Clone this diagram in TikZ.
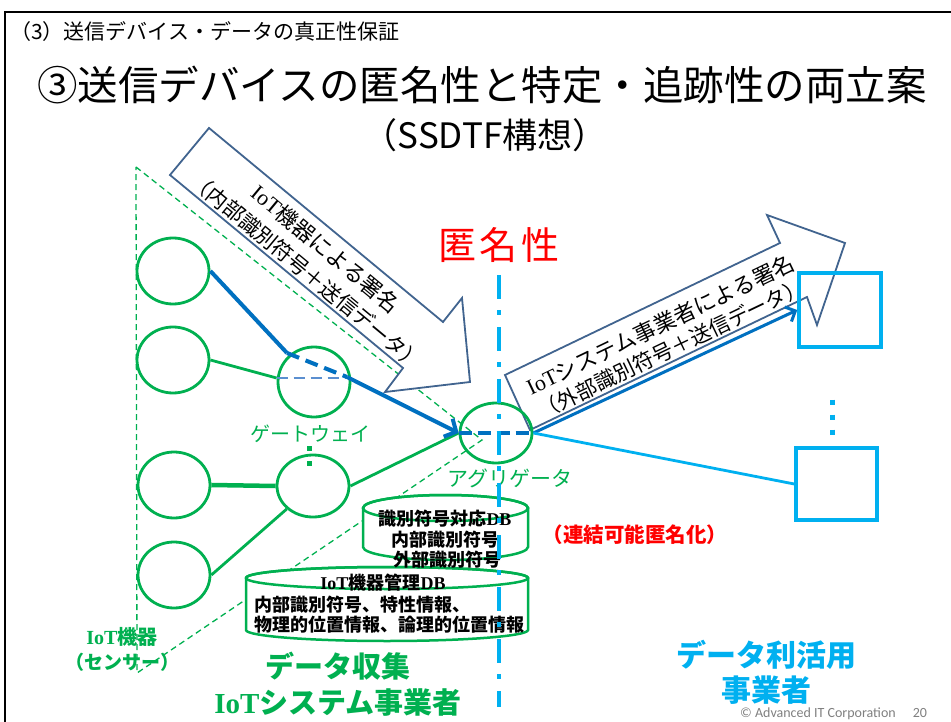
\documentclass[tikz,border=0pt]{standalone}
\usepackage{fontspec}
\setmainfont{Noto Sans CJK JP}
\newfontfamily\tms{Liberation Serif}
\newfontfamily\calfont{Carlito}
\usetikzlibrary{shapes.geometric,arrows.meta}
\definecolor{ggreen}{HTML}{00B050}
\definecolor{dblue}{HTML}{0070C0}
\definecolor{lblue}{HTML}{00B0F0}
\definecolor{arrowc}{HTML}{41648F}
\definecolor{ldash}{HTML}{5B8FD0}
\definecolor{cgray}{HTML}{808080}
\newcommand{\fsz}[1]{\fontsize{#1}{#1}\selectfont}
\tikzset{
  sens/.style={ellipse, draw=ggreen, line width=2.8pt, inner sep=0pt, minimum width=72pt, minimum height=66pt},
  dispbox/.style={rectangle, draw=lblue, line width=3.5pt, inner sep=0pt},
  gline/.style={draw=ggreen, line width=2.8pt},
  bline/.style={draw=dblue, line width=4pt},
  barrow/.style={draw=arrowc, line width=1.8pt, fill=white, line join=miter},
  dbs/.style={draw=ggreen, line width=2.5pt, fill=white},
  lbl/.style={inner sep=0pt},
  vdots/.style={line width=5pt, dash pattern=on 5pt off 10pt}
}
\begin{document}
\begin{tikzpicture}[x=1pt,y=-1pt]
\useasboundingbox (0,0) rectangle (951,722);
\fill[white] (0,0) rectangle (951,722);
% frame
\draw[line width=2.5pt] (5,722) -- (5,12) -- (951,12);
% headings
\node[lbl, anchor=west] (sub) at (10,32) {\fsz{21}（3）送信デバイス・データの真正性保証};
\node[lbl] (title) at (482,85) {\fsz{40.5}③送信デバイスの匿名性と特定・追跡性の両立案};
\node[lbl] (ssdtf) at (485,135) {\fsz{35}（SSDTF構想）};
% dashed triangle (IoT devices area)
\coordinate (t1) at (136,167);
\coordinate (t2) at (482,440);
\coordinate (t3) at (137,673);
\draw[ggreen, line width=1.3pt, dash pattern=on 6pt off 4pt] (t1) -- (t2) -- (t3) -- cycle;
% big arrow 1
\draw[barrow] (209,128) -- (443,322) -- (462,298) -- (470,382) -- (385,392) -- (403,368) -- (170,175) -- cycle;
\node[lbl, rotate=-39.7, align=center, font=\fontsize{21}{29.4}\selectfont] (a1t) at (316.5,260) {{\fontsize{22}{29.4}\selectfont{\tms IoT}機器による署名}\\（内部識別符号＋送信データ）};
% big arrow 2
\draw[barrow] (530,430) -- (505,375) -- (780,243) -- (767,215) -- (845,243) -- (817,325) -- (807,297) -- cycle;
\node[lbl, rotate=25.6, align=center, font=\fontsize{21}{26}\selectfont] (a2t) at (666,336.5) {{\fontsize{22}{26}\selectfont{\tms IoT}システム事業者による署名}\\（外部識別符号＋送信データ）};
% anonymity label
\node[lbl, text=red] (anon) at (499,245) {\fsz{38}匿\kern4pt 名\kern4pt 性};
% sensors, gateways, aggregator
\node[sens] (s1) at (173,271) {};
\node[sens] (s2) at (173,360) {};
\node[sens] (s3) at (174,485) {};
\node[sens] (s4) at (174,575) {};
\node[sens, minimum height=70pt] (g1) at (314,382) {};
\node[sens, minimum height=62pt] (g2) at (313,486) {};
\node[sens, minimum height=60pt] (agg) at (496,433) {};
% data users
\node[dispbox, minimum width=82pt, minimum height=74pt] (ub) at (840,310) {};
\node[dispbox, minimum width=81pt, minimum height=72pt] (lb) at (836.5,484) {};
% green links
\draw[gline] (s2.east) -- ([yshift=4pt]g1.west);
\draw[ggreen, line width=4.5pt] (s3.east) -- (g2.west);
\draw[gline] (s4.east) -- (g2);
\draw[gline] (g2.east) -- (agg.west);
% light dashed inside gateway 1
\draw[ldash, line width=2.5pt, dash pattern=on 11pt off 6pt] ([yshift=4pt]g1.west) -- ([yshift=4pt]g1.east);
% blue path
\coordinate (b1) at (287,353);
\coordinate (b2) at (347,377);
\draw[bline, line join=round] (s1.east) -- (b1);
\draw[bline, dash pattern=on 13pt off 7pt] (b1) -- (b2);
\draw[bline, -{Straight Barb[length=9pt,width=20pt]}] (b2) -- (agg.west);
\draw[bline, dash pattern=on 13pt off 6pt] (agg.west) -- (agg.east);
\draw[dblue, line width=3pt, -{Straight Barb[length=8pt,width=16pt]}] (agg.east) -- (ub.west);
\draw[lblue, line width=2.8pt] (agg.east) -- (lb.west);
% dots
\coordinate (gd1) at (309,446);
\coordinate (gd2) at (309,467);
\draw[ggreen, vdots] (gd1) -- (gd2);
\coordinate (bd1) at (832,399.5);
\coordinate (bd2) at (832,436);
\draw[lblue, vdots] (bd1) -- (bd2);
% labels
\node[lbl, text=ggreen] (gwl) at (310,434) {\fsz{20}ゲートウェイ};
\node[lbl, text=ggreen] (aggl) at (510,478) {\fsz{21}アグリゲータ};
% DB 1
\filldraw[dbs] (363,508) -- (363,547) arc[start angle=180, end angle=0, x radius=82.5, y radius=13] -- (528,508) arc[start angle=0, end angle=-180, x radius=82.5, y radius=13] -- cycle;
\draw[ggreen, line width=2.5pt] (445.5,508) ellipse[x radius=82.5, y radius=13];
% DB 2
\filldraw[dbs] (246,578) -- (246,630) arc[start angle=180, end angle=0, x radius=141, y radius=11] -- (528,578) arc[start angle=0, end angle=-180, x radius=141, y radius=11] -- cycle;
\draw[ggreen, line width=2.5pt] (387,578) ellipse[x radius=141, y radius=11];
% DB texts
\node[lbl, align=center, font=\bfseries\fontsize{18}{20.5}\selectfont] (db1) at (445,539.5) {識別符号対応{\tms\bfseries DB}\\内部識別符号\\\hspace*{4pt}外部識別符号};
\node[lbl] (db2a) at (383,583) {\bfseries\fsz{18}{\tms\bfseries IoT}機器管理{\tms\bfseries DB}};
\node[lbl, anchor=west, align=left, font=\bfseries\fontsize{18}{20}\selectfont] (db2b) at (254,615) {内部識別符号、特性情報、\\物理的位置情報、論理的位置情報};
% vertical dash-dot line
\coordinate (vt) at (499,275);
\coordinate (vb) at (499,707);
\draw[lblue, line width=4.5pt, dash pattern=on 24pt off 11pt on 5pt off 12pt] (vt) -- (vb);
% red label
\node[lbl, text=red] (link) at (635,535) {\bfseries\fsz{20.5}（連結可能匿名化）};
% bottom labels
\node[lbl, text=ggreen, align=center, font=\bfseries\fontsize{20}{25}\selectfont] (iotl) at (122,649.5) {{\tms\bfseries IoT}機器\\{\fontsize{19}{25}\selectfont（センサー）}};
\node[lbl, text=ggreen, align=center, font=\bfseries\fontsize{29}{36}\selectfont] (col) at (338,684) {データ収集\\{\tms\bfseries IoT}システム事業者};
\node[lbl, text=lblue, align=center, font=\bfseries\fontsize{30}{35}\selectfont] (use) at (766,672.5) {データ利活用\\事業者};
\node[lbl, anchor=west, text=cgray] (copy) at (740,714) {\calfont\fsz{14}© Advanced IT Corporation\hspace{17pt}20};
\end{tikzpicture}
\end{document}
